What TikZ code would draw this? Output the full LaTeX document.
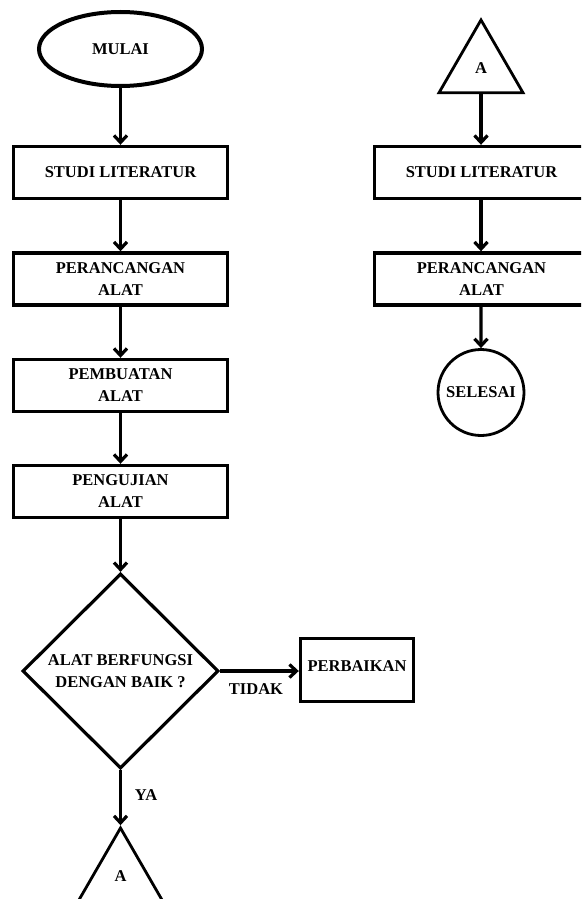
\documentclass[tikz,border=0pt]{standalone}
\usepackage{fontspec}
\setmainfont{Liberation Serif}
\usetikzlibrary{shapes.geometric,arrows.meta}
\tikzset{
  lbl/.style={font=\bfseries\fontsize{16.5}{22}\selectfont, align=center, inner sep=0pt},
  procbox/.style={lbl, draw, line width=3.4pt, minimum width=214pt, minimum height=52pt},
  flow/.style={line width=3.2pt, -{Straight Barb[length=7pt,width=13pt,line width=3.2pt]}},
  tri/.style={lbl, draw, line width=2.8pt, regular polygon, regular polygon sides=3, minimum size=97pt},
}
\begin{document}
\begin{tikzpicture}[x=1pt,y=-1pt]
\clip (0,0) rectangle (581,899);
\useasboundingbox (0,0) rectangle (581,899);
% left column
\node[lbl, draw, ellipse, line width=4pt, minimum width=163pt, minimum height=74pt] (mulai) at (120.5,49) {MULAI};
\node[procbox] (s1) at (120.5,172.5) {STUDI LITERATUR};
\node[procbox] (p1) at (120.5,279) {PERANCANGAN\\ALAT};
\node[procbox] (pb) at (120.5,385.5) {PEMBUATAN\\ALAT};
\node[procbox] (pg) at (120.5,491.5) {PENGUJIAN\\ALAT};
\node[lbl, draw, diamond, line width=3.2pt, minimum width=196pt, minimum height=195pt] (dec) at (120.5,671) {ALAT BERFUNGSI\\DENGAN BAIK ?};
\node[procbox, minimum width=113pt, minimum height=63pt] (perb) at (357,670) {};
\node[lbl] (perbtxt) at (357,666) {PERBAIKAN};
\node[tri] (aB) at (120.5,876.5) {A};
\node[lbl] (tidak) at (256,689) {TIDAK};
\node[lbl] (ya) at (146,795) {YA};
% right column
\node[tri] (aT) at (481,68.5) {A};
\node[procbox] (s2) at (481.5,172.5) {STUDI LITERATUR};
\node[procbox] (p2) at (481.5,279) {PERANCANGAN\\ALAT};
\node[lbl, draw, circle, line width=2.8pt, minimum size=86pt] (sel) at (481,392.5) {SELESAI};
% connectors
\draw[flow] (mulai) -- (s1);
\draw[flow] (s1) -- (p1);
\draw[flow] (p1) -- (pb);
\draw[flow] (pb) -- (pg);
\draw[flow] (pg) -- (dec);
\draw[flow] (dec.east) -- (perb.west |- dec.east);
\draw[flow] (dec.south) -- (aB.corner 1);
\draw[flow] (aT.south) -- (s2.north -| aT.south);
\draw[flow] (s2.south -| aT.south) -- (p2.north -| aT.south);
\draw[flow] (p2.south -| aT.south) -- (sel);
\end{tikzpicture}
\end{document}
